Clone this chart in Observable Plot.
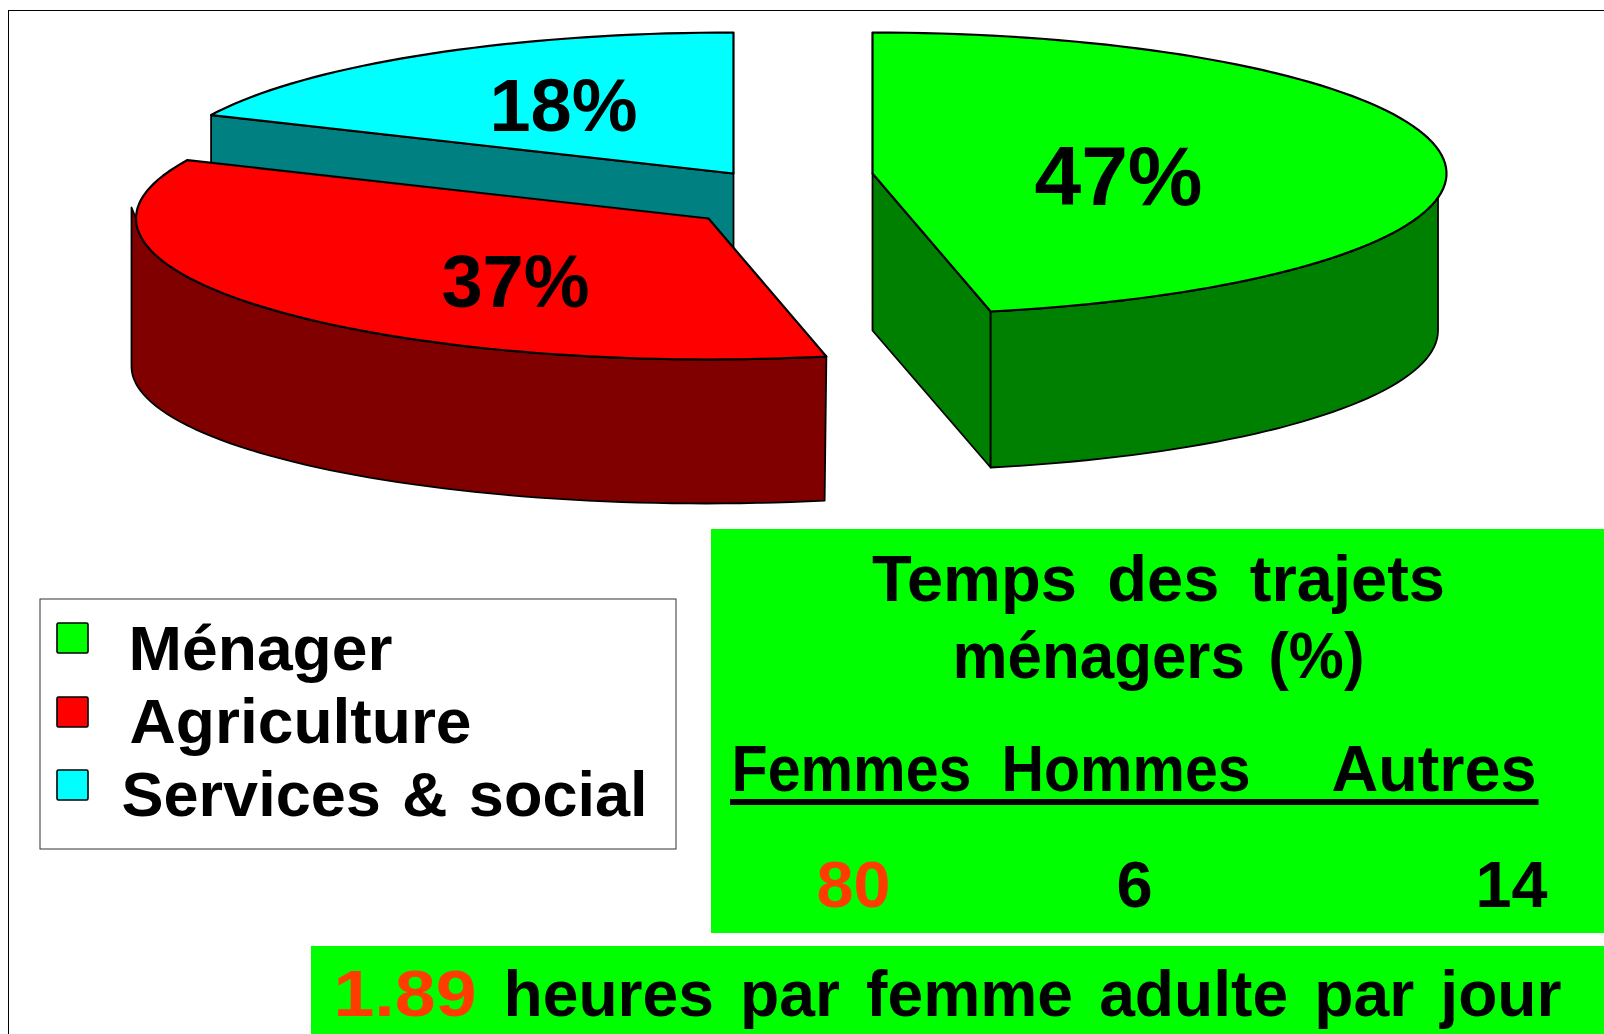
<!DOCTYPE html>
<html lang="fr">
<head>
<meta charset="utf-8">
<title>Temps des trajets ménagers</title>
<style>
  html, body { margin: 0; padding: 0; background: #fff; overflow: hidden; }
  svg { display: block; }
</style>
<script src="https://cdn.jsdelivr.net/npm/d3@7"></script>
<script src="https://cdn.jsdelivr.net/npm/@observablehq/plot@0.6"></script>
</head>
<body>
<div id="chart"></div>
<script>
// ---- Data ----
const categories = ["Ménager", "Agriculture", "Services & social"];
const shares = [46.7, 35.1, 18.2];               // angular share of each drawn slice
const shareLabels = ["47%", "37%", "18%"];       // printed labels
const topColors = ["#00ff00", "#ff0000", "#00ffff"];
const sideColors = ["#008000", "#800000", "#008080"];

const tableTitle = ["Temps des trajets", "ménagers (%)"];
const tableHeads = ["Femmes", "Hommes", "Autres"];
const tableValues = ["80", "6", "14"];
const tableValueColors = ["#ff3c00", "#000000", "#000000"];
const dailyValue = "1.89";
const dailyText = "heures par femme adulte par jour";

// ---- Layout (kept apart from the data) ----
const W = 1604, H = 1034;
const FONT = "Liberation Sans";
const RED_TEXT = "#ff3c00";
const sliceLayout = [
  {top: {cx: 872, cy: 173, rx: 574, ry: 141}, base: {cx: 874.2, cy: 330, rx: 563.3, ry: 140},
   label: {x: 1118, y: 204, size: 84}},
  {top: {cx: 708, cy: 218, rx: 572.5, ry: 141}, base: {cx: 705.8, cy: 366, rx: 574.8, ry: 137},
   label: {x: 515, y: 306, size: 74}},
  {top: {cx: 733, cy: 173, rx: 574, ry: 141}, base: {cx: 733, cy: 323, rx: 574, ry: 141},
   label: {x: 563, y: 130, size: 74}}
];
const legendBox = {x1: 40, x2: 676, y1: 599, y2: 849};
const legendSwatches = [{y1: 623, y2: 653}, {y1: 697, y2: 727}, {y1: 770, y2: 800}];
const legendTexts = [{x: 128, y: 669}, {x: 129, y: 742}, {x: 121, y: 815}];
const boxes = [{x1: 711, x2: W, y1: 529, y2: 933}, {x1: 311, x2: W, y1: 946, y2: H}];
const titlePos = [{x: 1158, y: 600}, {x: 1158, y: 677}];
const headPos = [{x: 731, y: 790}, {x: 1001, y: 790}, {x: 1331, y: 790}];
const valuePos = [{x: 853, y: 906}, {x: 1134, y: 906}, {x: 1511, y: 906}];
// rendered width and extra word gap of each text line
const textFit = new Map([
  ["Ménager", [264, 0]],
  ["Agriculture", [342, 0]],
  ["Services & social", [526, 0.06]],
  ["Temps des trajets", [573, 0.19]],
  ["ménagers (%)", [412, 0.1]],
  ["Femmes", [240, 0]],
  ["Hommes", [249, 0]],
  ["Autres", [205, 0]],
  ["80", [74, 0]],
  ["14", [72, 0]],
  ["1.89", [143, 0]],
  ["heures par femme adulte par jour", [1058, 0.13]]
]);

// ---- Pie geometry: angles come from d3.pie over the shares ----
const arcs = d3.pie().sort(null).value(d => d)(shares);
const onEllipse = (e, a) => ({x: e.cx + e.rx * Math.sin(a), y: e.cy - e.ry * Math.cos(a)});
function sweep(e, a0, a1) {
  const n = Math.max(2, Math.ceil(Math.abs(a1 - a0) / 0.03));
  return d3.range(n + 1).map(i => onEllipse(e, a0 + (a1 - a0) * i / n));
}
const closed = pts => [...pts, pts[0]];

function face(i) {
  const {top} = sliceLayout[i], {startAngle, endAngle} = arcs[i];
  return closed([{x: top.cx, y: top.cy}, ...sweep(top, startAngle, endAngle)]);
}
// inner cut wall along one radius
function cutWall(i, angle) {
  const {top, base} = sliceLayout[i];
  return closed([{x: top.cx, y: top.cy}, onEllipse(top, angle), onEllipse(base, angle), {x: top.cx, y: base.cy}]);
}
// outer rim wall between two angles on the top and base ellipses
function rimWall(i, a0, a1, b0, b1, extra = []) {
  const {top, base} = sliceLayout[i];
  return closed([...sweep(top, a0, a1), ...extra, ...sweep(base, b0, b1)]);
}

const polygon = (pts, fill, strokeWidth = 1.8) =>
  Plot.line(pts, {x: "x", y: "y", fill, stroke: "#000", strokeWidth, curve: "linear",
                  strokeLinejoin: "round", strokeMiterlimit: 4});

const bold = {fontFamily: FONT, fontWeight: "bold", fill: "#000"};
const label = (t, p, size, o = {}) =>
  Plot.text([t], {x: () => p.x, y: () => p.y, text: d => d, fontSize: size, lineAnchor: "bottom",
                  textAnchor: "middle", ...bold, ...o});

const [g, r, b] = sliceLayout;
const greenRimStart = Math.PI - Math.asin((g.base.cx + g.base.rx - g.top.cx) / g.top.rx);

const marks = [
  // frame, top and left edges
  Plot.ruleY([10], {x1: 8, x2: W, stroke: "#000", strokeWidth: 1}),
  Plot.ruleX([8], {y1: 10, y2: H, stroke: "#000", strokeWidth: 1}),

  // Services & social
  polygon(cutWall(2, arcs[2].startAngle), sideColors[2]),
  polygon(face(2), topColors[2], 2.2),

  // Agriculture
  polygon(rimWall(1, arcs[1].startAngle, 1.5 * Math.PI, 1.5 * Math.PI, arcs[1].startAngle,
                  [{x: r.base.cx - r.base.rx, y: r.top.cy - 11}]), sideColors[1]),
  polygon(face(1), topColors[1], 2.2),

  // Ménager
  polygon(cutWall(0, arcs[0].endAngle), sideColors[0]),
  polygon(rimWall(0, greenRimStart, arcs[0].endAngle, arcs[0].endAngle, Math.PI / 2), sideColors[0]),
  polygon(face(0), topColors[0], 2.2),

  // slice labels
  ...shareLabels.map((t, i) => label(t, sliceLayout[i].label, sliceLayout[i].label.size)),

  // legend
  Plot.rect([legendBox], {x1: "x1", x2: "x2", y1: "y1", y2: "y2", fill: "#fff", stroke: "#333", strokeWidth: 1}),
  ...categories.map((c, i) => Plot.rect([legendSwatches[i]], {
    x1: () => 57, x2: () => 88, y1: "y1", y2: "y2", fill: topColors[i], stroke: "#000", strokeWidth: 1.6, rx: 1.5})),
  ...categories.map((c, i) => label(c, legendTexts[i], 63, {textAnchor: "start"})),

  // green panels
  ...boxes.map(o => Plot.rect([o], {x1: "x1", x2: "x2", y1: "y1", y2: "y2", fill: "#00ff00"})),
  ...tableTitle.map((t, i) => label(t, titlePos[i], 64)),
  ...tableHeads.map((t, i) => label(t, headPos[i], 64, {textAnchor: "start"})),
  Plot.rect([{x1: 730, x2: 1538.5, y1: 799, y2: 805}], {x1: "x1", x2: "x2", y1: "y1", y2: "y2", fill: "#000"}),
  ...tableValues.map((t, i) => label(t, valuePos[i], 65, {fill: tableValueColors[i]})),
  label(dailyValue, {x: 333, y: 1015}, 64, {textAnchor: "start", fill: RED_TEXT}),
  label(dailyText, {x: 503, y: 1015}, 64, {textAnchor: "start"})
];

const chart = Plot.plot({
  width: W, height: H, margin: 0,
  style: {background: "#fff"},
  x: {domain: [0, W], range: [0, W], axis: null},
  y: {domain: [0, H], range: [0, H], axis: null},
  marks
});
chart.querySelectorAll("text").forEach(el => {
  const fit = textFit.get(el.textContent);
  if (!fit) return;
  el.setAttribute("textLength", fit[0]);
  el.setAttribute("lengthAdjust", "spacingAndGlyphs");
  if (fit[1]) el.style.wordSpacing = fit[1] + "em";
});
document.getElementById("chart").append(chart);
</script>
</body>
</html>
